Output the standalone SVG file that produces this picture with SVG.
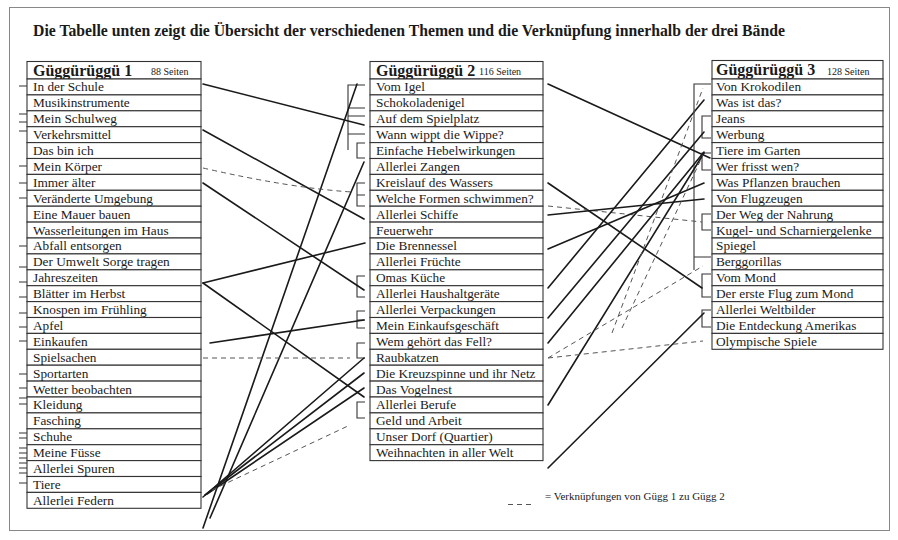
<svg xmlns="http://www.w3.org/2000/svg" width="898" height="540" viewBox="0 0 898 540">
<style>
.bg{fill:#fff}
.frame{fill:none;stroke:#888;stroke-width:1}
.row{fill:#fff;stroke:#333;stroke-width:1.1}
.t{font-family:"Liberation Serif","Times New Roman",serif;font-size:13.3px;fill:#1a1a1a}
.h{font-family:"Liberation Serif","Times New Roman",serif;font-weight:bold;font-size:16px;fill:#1a1a1a}
.s{font-family:"Liberation Serif","Times New Roman",serif;font-size:10px;fill:#1a1a1a}
.title{font-family:"Liberation Serif","Times New Roman",serif;font-weight:bold;font-size:16px;fill:#1a1a1a}
.leg{font-family:"Liberation Serif","Times New Roman",serif;font-size:11px;fill:#1a1a1a}
.c{stroke:#1a1a1a;stroke-width:1.6;fill:none;stroke-linecap:round}
.d{stroke:#555;stroke-width:1;stroke-dasharray:5 4;fill:none}
.b{stroke:#333;stroke-width:1.1;fill:none}
.k{stroke:#333;stroke-width:1.2;fill:none}
</style>
<rect class="bg" x="0" y="0" width="898" height="540"/>
<rect class="frame" x="9.5" y="7.5" width="880" height="523"/>
<text class="title" x="33" y="36" textLength="752" lengthAdjust="spacingAndGlyphs">Die Tabelle unten zeigt die Übersicht der verschiedenen Themen und die Verknüpfung innerhalb der drei Bände</text>

<!-- left margin ticks -->
<g id="ticks">
<path class="k" d="M19,86H27M19,114H27M19,122H27M19,131H27M19,166H27M19,183H27M19,198H27M19,246H27M19,267H27M19,282H27M19,297H27M19,313H27M19,327H27M19,341H27M19,374H27M19,388H27M19,398H27M19,404H27M19,433H27M19,438H27M19,448H27M19,453H27M19,458H27M19,463H27M19,468H27M19,473H27M19,483H27"/>
</g>

<g id="guegg1">
<rect class="row" x="27" y="61.5" width="174" height="17.5"/>
<text class="h" x="33" y="76">Güggürüggü 1</text>
<text class="s" x="151" y="75">88 Seiten</text>
<g id="g1-r0"><rect class="row" x="27" y="79" width="174" height="15.9"/><text class="t" x="33" y="91.4">In der Schule</text></g>
<g id="g1-r1"><rect class="row" x="27" y="94.9" width="174" height="15.9"/><text class="t" x="33" y="107.3">Musikinstrumente</text></g>
<g id="g1-r2"><rect class="row" x="27" y="110.8" width="174" height="15.9"/><text class="t" x="33" y="123.2">Mein Schulweg</text></g>
<g id="g1-r3"><rect class="row" x="27" y="126.7" width="174" height="15.9"/><text class="t" x="33" y="139.1">Verkehrsmittel</text></g>
<g id="g1-r4"><rect class="row" x="27" y="142.6" width="174" height="15.9"/><text class="t" x="33" y="155">Das bin ich</text></g>
<g id="g1-r5"><rect class="row" x="27" y="158.5" width="174" height="15.9"/><text class="t" x="33" y="170.9">Mein Körper</text></g>
<g id="g1-r6"><rect class="row" x="27" y="174.4" width="174" height="15.9"/><text class="t" x="33" y="186.8">Immer älter</text></g>
<g id="g1-r7"><rect class="row" x="27" y="190.3" width="174" height="15.9"/><text class="t" x="33" y="202.7">Veränderte Umgebung</text></g>
<g id="g1-r8"><rect class="row" x="27" y="206.2" width="174" height="15.9"/><text class="t" x="33" y="218.6">Eine Mauer bauen</text></g>
<g id="g1-r9"><rect class="row" x="27" y="222.1" width="174" height="15.9"/><text class="t" x="33" y="234.5">Wasserleitungen im Haus</text></g>
<g id="g1-r10"><rect class="row" x="27" y="238" width="174" height="15.9"/><text class="t" x="33" y="250.4">Abfall entsorgen</text></g>
<g id="g1-r11"><rect class="row" x="27" y="253.9" width="174" height="15.9"/><text class="t" x="33" y="266.3">Der Umwelt Sorge tragen</text></g>
<g id="g1-r12"><rect class="row" x="27" y="269.8" width="174" height="15.9"/><text class="t" x="33" y="282.2">Jahreszeiten</text></g>
<g id="g1-r13"><rect class="row" x="27" y="285.7" width="174" height="15.9"/><text class="t" x="33" y="298.1">Blätter im Herbst</text></g>
<g id="g1-r14"><rect class="row" x="27" y="301.6" width="174" height="15.9"/><text class="t" x="33" y="314">Knospen im Frühling</text></g>
<g id="g1-r15"><rect class="row" x="27" y="317.5" width="174" height="15.9"/><text class="t" x="33" y="329.9">Apfel</text></g>
<g id="g1-r16"><rect class="row" x="27" y="333.4" width="174" height="15.9"/><text class="t" x="33" y="345.8">Einkaufen</text></g>
<g id="g1-r17"><rect class="row" x="27" y="349.3" width="174" height="15.9"/><text class="t" x="33" y="361.7">Spielsachen</text></g>
<g id="g1-r18"><rect class="row" x="27" y="365.2" width="174" height="15.9"/><text class="t" x="33" y="377.6">Sportarten</text></g>
<g id="g1-r19"><rect class="row" x="27" y="381.1" width="174" height="15.9"/><text class="t" x="33" y="393.5">Wetter beobachten</text></g>
<g id="g1-r20"><rect class="row" x="27" y="397" width="174" height="15.9"/><text class="t" x="33" y="409.4">Kleidung</text></g>
<g id="g1-r21"><rect class="row" x="27" y="412.9" width="174" height="15.9"/><text class="t" x="33" y="425.3">Fasching</text></g>
<g id="g1-r22"><rect class="row" x="27" y="428.8" width="174" height="15.9"/><text class="t" x="33" y="441.2">Schuhe</text></g>
<g id="g1-r23"><rect class="row" x="27" y="444.7" width="174" height="15.9"/><text class="t" x="33" y="457.1">Meine Füsse</text></g>
<g id="g1-r24"><rect class="row" x="27" y="460.6" width="174" height="15.9"/><text class="t" x="33" y="473">Allerlei Spuren</text></g>
<g id="g1-r25"><rect class="row" x="27" y="476.5" width="174" height="15.9"/><text class="t" x="33" y="488.9">Tiere</text></g>
<g id="g1-r26"><rect class="row" x="27" y="492.4" width="174" height="15.9"/><text class="t" x="33" y="504.8">Allerlei Federn</text></g>
</g>

<g id="guegg2">
<rect class="row" x="370" y="61.5" width="173" height="17.5"/>
<text class="h" x="376" y="76">Güggürüggü 2</text>
<text class="s" x="479" y="75">116 Seiten</text>
<g id="g2-r0"><rect class="row" x="370" y="79" width="173" height="15.9"/><text class="t" x="376" y="91.4">Vom Igel</text></g>
<g id="g2-r1"><rect class="row" x="370" y="94.9" width="173" height="15.9"/><text class="t" x="376" y="107.3">Schokoladenigel</text></g>
<g id="g2-r2"><rect class="row" x="370" y="110.8" width="173" height="15.9"/><text class="t" x="376" y="123.2">Auf dem Spielplatz</text></g>
<g id="g2-r3"><rect class="row" x="370" y="126.7" width="173" height="15.9"/><text class="t" x="376" y="139.1">Wann wippt die Wippe?</text></g>
<g id="g2-r4"><rect class="row" x="370" y="142.6" width="173" height="15.9"/><text class="t" x="376" y="155">Einfache Hebelwirkungen</text></g>
<g id="g2-r5"><rect class="row" x="370" y="158.5" width="173" height="15.9"/><text class="t" x="376" y="170.9">Allerlei Zangen</text></g>
<g id="g2-r6"><rect class="row" x="370" y="174.4" width="173" height="15.9"/><text class="t" x="376" y="186.8">Kreislauf des Wassers</text></g>
<g id="g2-r7"><rect class="row" x="370" y="190.3" width="173" height="15.9"/><text class="t" x="376" y="202.7">Welche Formen schwimmen?</text></g>
<g id="g2-r8"><rect class="row" x="370" y="206.2" width="173" height="15.9"/><text class="t" x="376" y="218.6">Allerlei Schiffe</text></g>
<g id="g2-r9"><rect class="row" x="370" y="222.1" width="173" height="15.9"/><text class="t" x="376" y="234.5">Feuerwehr</text></g>
<g id="g2-r10"><rect class="row" x="370" y="238" width="173" height="15.9"/><text class="t" x="376" y="250.4">Die Brennessel</text></g>
<g id="g2-r11"><rect class="row" x="370" y="253.9" width="173" height="15.9"/><text class="t" x="376" y="266.3">Allerlei Früchte</text></g>
<g id="g2-r12"><rect class="row" x="370" y="269.8" width="173" height="15.9"/><text class="t" x="376" y="282.2">Omas Küche</text></g>
<g id="g2-r13"><rect class="row" x="370" y="285.7" width="173" height="15.9"/><text class="t" x="376" y="298.1">Allerlei Haushaltgeräte</text></g>
<g id="g2-r14"><rect class="row" x="370" y="301.6" width="173" height="15.9"/><text class="t" x="376" y="314">Allerlei Verpackungen</text></g>
<g id="g2-r15"><rect class="row" x="370" y="317.5" width="173" height="15.9"/><text class="t" x="376" y="329.9">Mein Einkaufsgeschäft</text></g>
<g id="g2-r16"><rect class="row" x="370" y="333.4" width="173" height="15.9"/><text class="t" x="376" y="345.8">Wem gehört das Fell?</text></g>
<g id="g2-r17"><rect class="row" x="370" y="349.3" width="173" height="15.9"/><text class="t" x="376" y="361.7">Raubkatzen</text></g>
<g id="g2-r18"><rect class="row" x="370" y="365.2" width="173" height="15.9"/><text class="t" x="376" y="377.6">Die Kreuzspinne und ihr Netz</text></g>
<g id="g2-r19"><rect class="row" x="370" y="381.1" width="173" height="15.9"/><text class="t" x="376" y="393.5">Das Vogelnest</text></g>
<g id="g2-r20"><rect class="row" x="370" y="397" width="173" height="15.9"/><text class="t" x="376" y="409.4">Allerlei Berufe</text></g>
<g id="g2-r21"><rect class="row" x="370" y="412.9" width="173" height="15.9"/><text class="t" x="376" y="425.3">Geld und Arbeit</text></g>
<g id="g2-r22"><rect class="row" x="370" y="428.8" width="173" height="15.9"/><text class="t" x="376" y="441.2">Unser Dorf (Quartier)</text></g>
<g id="g2-r23"><rect class="row" x="370" y="444.7" width="173" height="15.9"/><text class="t" x="376" y="457.1">Weihnachten in aller Welt</text></g>
</g>

<g id="guegg3">
<rect class="row" x="712" y="60.5" width="171" height="18.5"/>
<text class="h" x="716" y="75">Güggürüggü 3</text>
<text class="s" x="827" y="75">128 Seiten</text>
<g id="g3-r0"><rect class="row" x="712" y="79" width="171" height="15.9"/><text class="t" x="716" y="91.4">Von Krokodilen</text></g>
<g id="g3-r1"><rect class="row" x="712" y="94.9" width="171" height="15.9"/><text class="t" x="716" y="107.3">Was ist das?</text></g>
<g id="g3-r2"><rect class="row" x="712" y="110.8" width="171" height="15.9"/><text class="t" x="716" y="123.2">Jeans</text></g>
<g id="g3-r3"><rect class="row" x="712" y="126.7" width="171" height="15.9"/><text class="t" x="716" y="139.1">Werbung</text></g>
<g id="g3-r4"><rect class="row" x="712" y="142.6" width="171" height="15.9"/><text class="t" x="716" y="155">Tiere im Garten</text></g>
<g id="g3-r5"><rect class="row" x="712" y="158.5" width="171" height="15.9"/><text class="t" x="716" y="170.9">Wer frisst wen?</text></g>
<g id="g3-r6"><rect class="row" x="712" y="174.4" width="171" height="15.9"/><text class="t" x="716" y="186.8">Was Pflanzen brauchen</text></g>
<g id="g3-r7"><rect class="row" x="712" y="190.3" width="171" height="15.9"/><text class="t" x="716" y="202.7">Von Flugzeugen</text></g>
<g id="g3-r8"><rect class="row" x="712" y="206.2" width="171" height="15.9"/><text class="t" x="716" y="218.6">Der Weg der Nahrung</text></g>
<g id="g3-r9"><rect class="row" x="712" y="222.1" width="171" height="15.9"/><text class="t" x="716" y="234.5">Kugel- und Scharniergelenke</text></g>
<g id="g3-r10"><rect class="row" x="712" y="238" width="171" height="15.9"/><text class="t" x="716" y="250.4">Spiegel</text></g>
<g id="g3-r11"><rect class="row" x="712" y="253.9" width="171" height="15.9"/><text class="t" x="716" y="266.3">Berggorillas</text></g>
<g id="g3-r12"><rect class="row" x="712" y="269.8" width="171" height="15.9"/><text class="t" x="716" y="282.2">Vom Mond</text></g>
<g id="g3-r13"><rect class="row" x="712" y="285.7" width="171" height="15.9"/><text class="t" x="716" y="298.1">Der erste Flug zum Mond</text></g>
<g id="g3-r14"><rect class="row" x="712" y="301.6" width="171" height="15.9"/><text class="t" x="716" y="314">Allerlei Weltbilder</text></g>
<g id="g3-r15"><rect class="row" x="712" y="317.5" width="171" height="15.9"/><text class="t" x="716" y="329.9">Die Entdeckung Amerikas</text></g>
<g id="g3-r16"><rect class="row" x="712" y="333.4" width="171" height="15.9"/><text class="t" x="716" y="345.8">Olympische Spiele</text></g>
</g>

<g id="brackets">
<path class="b" d="M365,85H348V150M348,108H365M348,116H365M348,134H365"/>
<path class="b" d="M365,143H357V158H365"/>
<path class="b" d="M365,183H357V206H365M357,195H365"/>
<path class="b" d="M365,276H357V297H365"/>
<path class="b" d="M365,311H357V328H365M357,320H365"/>
<path class="b" d="M365,343H357V358H365"/>
<path class="b" d="M365,402H357V418H365"/>
<path class="b" d="M711,84H694V270M694,257H711"/>
<path class="b" d="M711,116H702V138H711"/>
<path class="b" d="M711,153H702V170H711"/>
<path class="b" d="M711,214H702V230H711"/>
<path class="b" d="M711,274H702V297H711"/>
<path class="b" d="M711,310H702V327H711"/>
</g>

<g id="connectors">
<line class="c" x1="203" y1="84" x2="364" y2="125"/>
<line class="c" x1="203" y1="130" x2="364" y2="219"/>
<line class="c" x1="203" y1="183" x2="364" y2="290"/>
<line class="c" x1="203" y1="283" x2="365" y2="243"/>
<line class="c" x1="203" y1="283" x2="364" y2="397"/>
<line class="c" x1="357" y1="84" x2="203" y2="528"/>
<line class="c" x1="364" y1="162" x2="210" y2="518"/>
<line class="c" x1="210" y1="343" x2="364" y2="320"/>
<line class="c" x1="203" y1="497" x2="364" y2="358"/>
<line class="c" x1="205" y1="495" x2="364" y2="373"/>
<line class="c" x1="207" y1="494" x2="364" y2="388"/>
<path class="d" d="M203,168Q290,188 352,192"/>
<line class="d" x1="203" y1="358" x2="350" y2="358"/>
<line class="d" x1="212" y1="490" x2="350" y2="425"/>

<line class="c" x1="548" y1="84" x2="710" y2="158"/>
<line class="c" x1="548" y1="183" x2="702" y2="288"/>
<line class="d" x1="548" y1="206" x2="702" y2="222"/>
<line class="c" x1="548" y1="215" x2="704" y2="199"/>
<line class="c" x1="548" y1="249" x2="704" y2="183"/>
<line class="c" x1="548" y1="288" x2="704" y2="100"/>
<line class="c" x1="548" y1="318" x2="704" y2="132"/>
<line class="c" x1="548" y1="343" x2="704" y2="152"/>
<line class="c" x1="548" y1="405" x2="704" y2="153"/>
<line class="c" x1="548" y1="468" x2="704" y2="313"/>
<line class="d" x1="548" y1="358" x2="703" y2="266"/>
<line class="d" x1="548" y1="358" x2="703" y2="341"/>
<line class="d" x1="612" y1="333" x2="703" y2="88"/>
<line class="d" x1="622" y1="328" x2="703" y2="155"/>
</g>

<g id="legend">
<line class="d" x1="508" y1="504.5" x2="534" y2="504.5"/>
<text class="leg" x="545" y="500">= Verknüpfungen von Gügg 1 zu Gügg 2</text>
</g>
</svg>
